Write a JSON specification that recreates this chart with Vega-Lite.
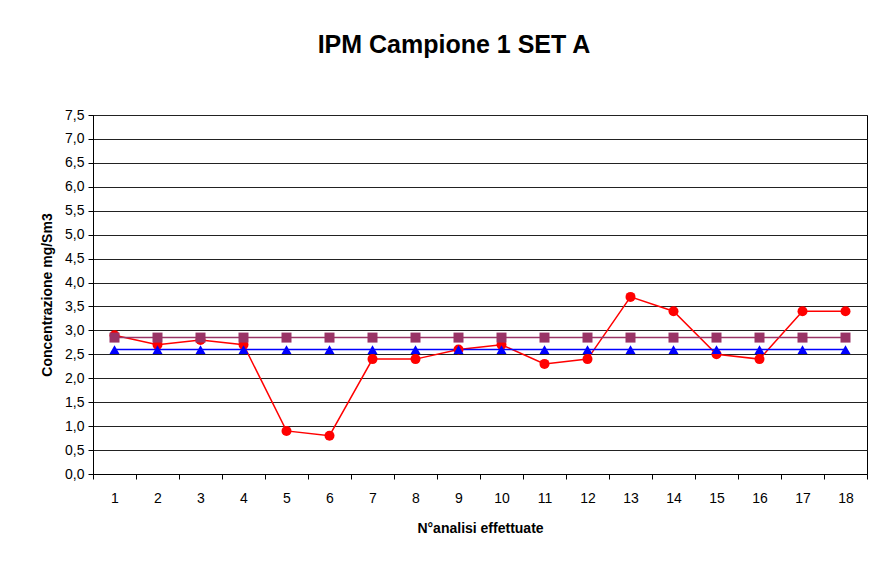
{
  "$schema": "https://vega.github.io/schema/vega-lite/v6.json",
  "width": 876,
  "height": 566,
  "autosize": {"type": "fit", "contains": "padding"},
  "padding": {"left": 40, "right": 8, "top": 33, "bottom": 31},
  "background": "white",
  "title": {
    "text": "IPM Campione 1 SET A",
    "font": "Liberation Sans",
    "fontSize": 25,
    "fontWeight": "bold",
    "color": "#000",
    "anchor": "middle",
    "frame": "bounds",
    "offset": 50
  },
  "config": {
    "view": {"stroke": "#000", "strokeWidth": 1},
    "font": "Liberation Sans"
  },
  "data": {
    "values": [
      {"n": 1, "serie": "Misura", "value": 2.9},
      {"n": 2, "serie": "Misura", "value": 2.7},
      {"n": 3, "serie": "Misura", "value": 2.8},
      {"n": 4, "serie": "Misura", "value": 2.7},
      {"n": 5, "serie": "Misura", "value": 0.9},
      {"n": 6, "serie": "Misura", "value": 0.8},
      {"n": 7, "serie": "Misura", "value": 2.4},
      {"n": 8, "serie": "Misura", "value": 2.4},
      {"n": 9, "serie": "Misura", "value": 2.6},
      {"n": 10, "serie": "Misura", "value": 2.7},
      {"n": 11, "serie": "Misura", "value": 2.3},
      {"n": 12, "serie": "Misura", "value": 2.4},
      {"n": 13, "serie": "Misura", "value": 3.7},
      {"n": 14, "serie": "Misura", "value": 3.4},
      {"n": 15, "serie": "Misura", "value": 2.5},
      {"n": 16, "serie": "Misura", "value": 2.4},
      {"n": 17, "serie": "Misura", "value": 3.4},
      {"n": 18, "serie": "Misura", "value": 3.4},
      {"n": 1, "serie": "Media", "value": 2.85},
      {"n": 2, "serie": "Media", "value": 2.85},
      {"n": 3, "serie": "Media", "value": 2.85},
      {"n": 4, "serie": "Media", "value": 2.85},
      {"n": 5, "serie": "Media", "value": 2.85},
      {"n": 6, "serie": "Media", "value": 2.85},
      {"n": 7, "serie": "Media", "value": 2.85},
      {"n": 8, "serie": "Media", "value": 2.85},
      {"n": 9, "serie": "Media", "value": 2.85},
      {"n": 10, "serie": "Media", "value": 2.85},
      {"n": 11, "serie": "Media", "value": 2.85},
      {"n": 12, "serie": "Media", "value": 2.85},
      {"n": 13, "serie": "Media", "value": 2.85},
      {"n": 14, "serie": "Media", "value": 2.85},
      {"n": 15, "serie": "Media", "value": 2.85},
      {"n": 16, "serie": "Media", "value": 2.85},
      {"n": 17, "serie": "Media", "value": 2.85},
      {"n": 18, "serie": "Media", "value": 2.85},
      {"n": 1, "serie": "Riferimento", "value": 2.6},
      {"n": 2, "serie": "Riferimento", "value": 2.6},
      {"n": 3, "serie": "Riferimento", "value": 2.6},
      {"n": 4, "serie": "Riferimento", "value": 2.6},
      {"n": 5, "serie": "Riferimento", "value": 2.6},
      {"n": 6, "serie": "Riferimento", "value": 2.6},
      {"n": 7, "serie": "Riferimento", "value": 2.6},
      {"n": 8, "serie": "Riferimento", "value": 2.6},
      {"n": 9, "serie": "Riferimento", "value": 2.6},
      {"n": 10, "serie": "Riferimento", "value": 2.6},
      {"n": 11, "serie": "Riferimento", "value": 2.6},
      {"n": 12, "serie": "Riferimento", "value": 2.6},
      {"n": 13, "serie": "Riferimento", "value": 2.6},
      {"n": 14, "serie": "Riferimento", "value": 2.6},
      {"n": 15, "serie": "Riferimento", "value": 2.6},
      {"n": 16, "serie": "Riferimento", "value": 2.6},
      {"n": 17, "serie": "Riferimento", "value": 2.6},
      {"n": 18, "serie": "Riferimento", "value": 2.6}
    ]
  },
  "encoding": {
    "x": {
      "field": "n",
      "type": "ordinal",
      "scale": {"paddingInner": 0, "paddingOuter": 0},
      "axis": {
        "title": "N°analisi effettuate",
        "titleFont": "Liberation Sans",
        "titleFontSize": 14,
        "titleFontWeight": "bold",
        "titleColor": "#000",
        "titlePadding": 16,
        "labelAngle": 0,
        "labelFont": "Liberation Sans",
        "labelFontSize": 14,
        "labelColor": "#000",
        "labelPadding": 12,
        "tickBand": "extent",
        "tickSize": 5,
        "tickColor": "#000",
        "domainColor": "#000",
        "grid": false
      }
    },
    "y": {
      "field": "value",
      "type": "quantitative",
      "scale": {"domain": [0, 7.5], "nice": false},
      "axis": {
        "title": "Concentrazione mg/Sm3",
        "titleFont": "Liberation Sans",
        "titleFontSize": 14,
        "titleFontWeight": "bold",
        "titleColor": "#000",
        "titlePadding": 10,
        "values": [0, 0.5, 1, 1.5, 2, 2.5, 3, 3.5, 4, 4.5, 5, 5.5, 6, 6.5, 7, 7.5],
        "labelExpr": "replace(format(datum.value, '.1f'), '.', ',')",
        "labelFont": "Liberation Sans",
        "labelFontSize": 14,
        "labelColor": "#000",
        "labelPadding": 4,
        "tickSize": 5,
        "tickColor": "#000",
        "domainColor": "#000",
        "grid": true,
        "gridColor": "#222",
        "gridWidth": 1
      }
    },
    "color": {
      "field": "serie",
      "type": "nominal",
      "scale": {"domain": ["Misura", "Media", "Riferimento"], "range": ["#ff0000", "#993366", "#0000ff"]},
      "legend": null
    }
  },
  "layer": [
    {"mark": {"type": "line", "strokeWidth": 1.5}},
    {
      "mark": {"type": "point", "filled": true, "opacity": 1, "size": 100},
      "encoding": {
        "shape": {
          "field": "serie",
          "type": "nominal",
          "scale": {"domain": ["Misura", "Media", "Riferimento"], "range": ["circle", "square", "triangle-up"]},
          "legend": null
        }
      }
    }
  ]
}
